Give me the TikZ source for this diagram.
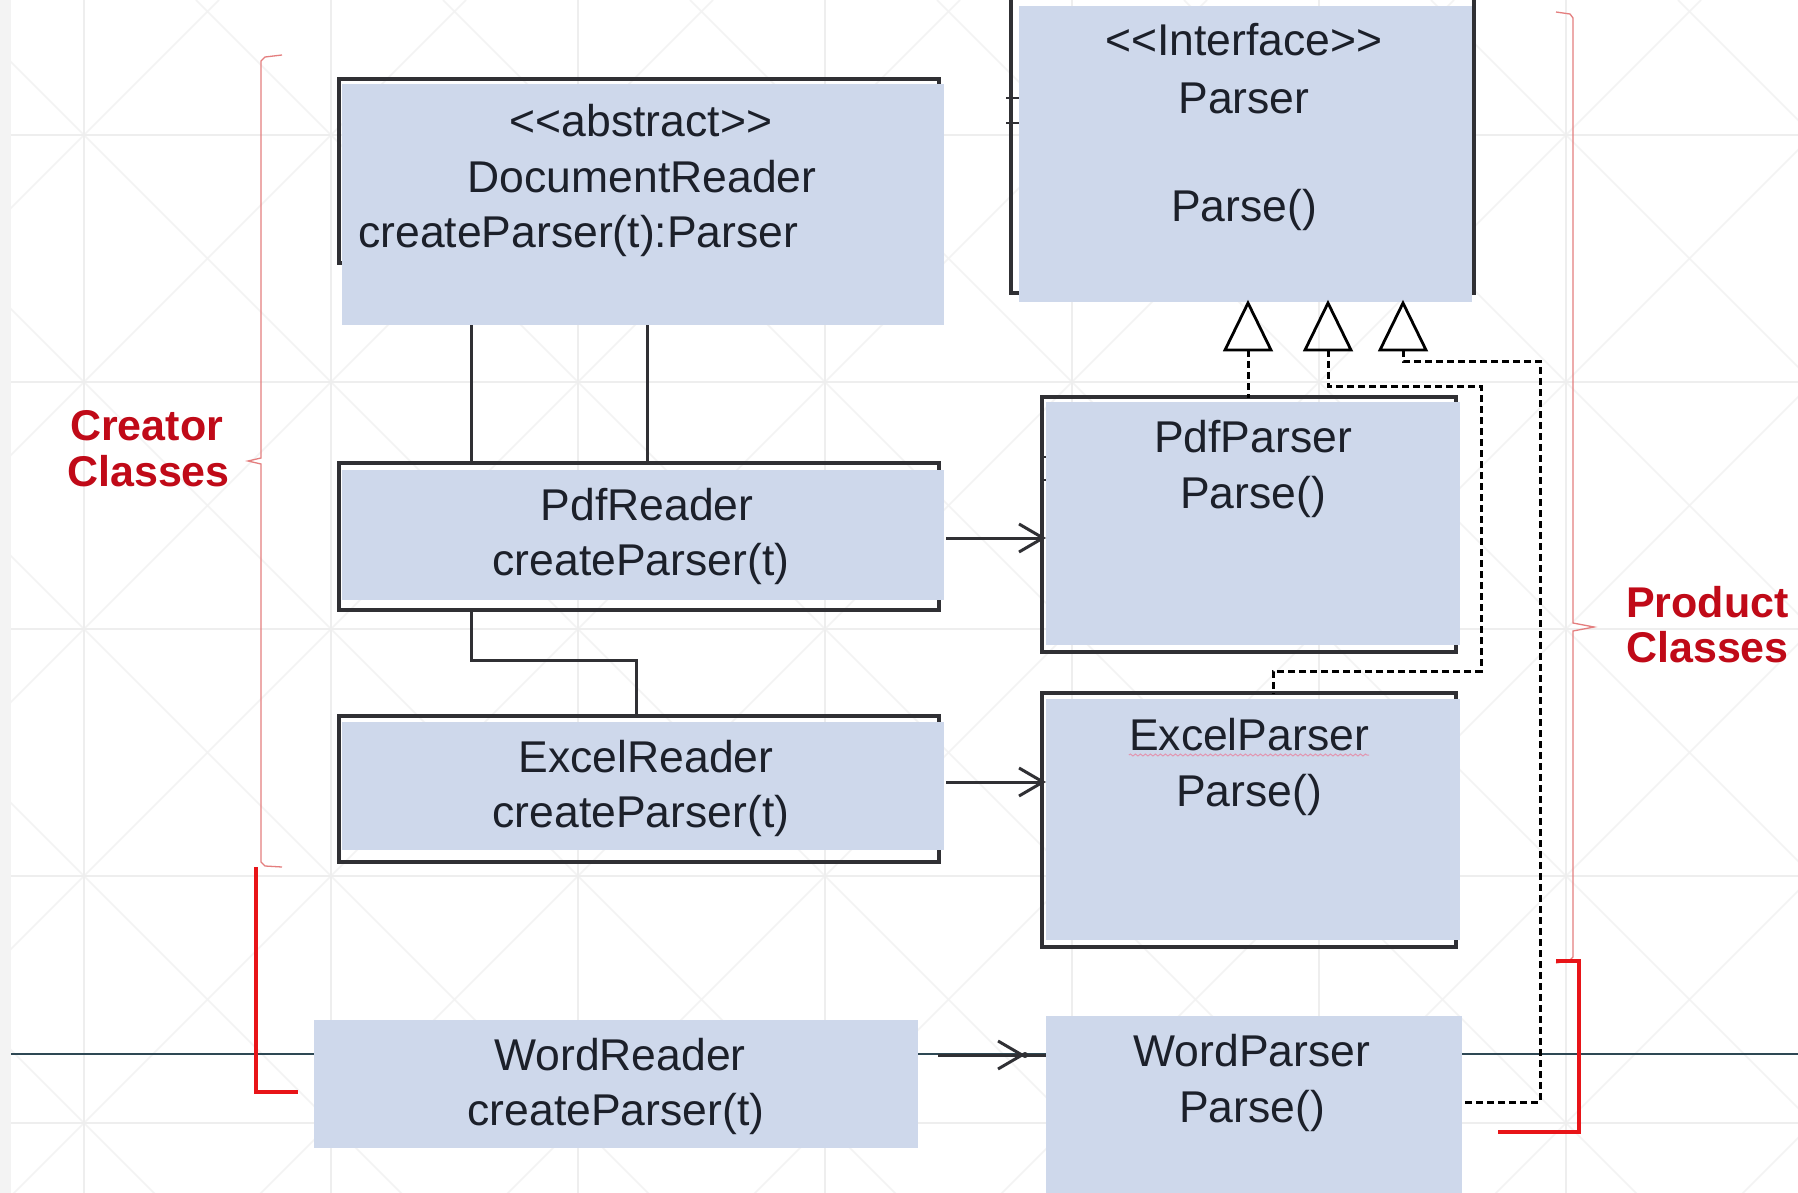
\documentclass[tikz,border=0pt]{standalone}
\usepackage{fontspec}
\setmainfont{Liberation Sans}
\usetikzlibrary{arrows.meta,calc,decorations.pathmorphing}

\definecolor{boxfill}{RGB}{206,216,235}
\definecolor{ink}{RGB}{28,32,42}
\definecolor{frameline}{RGB}{48,48,52}
\definecolor{gridline}{RGB}{238,238,238}
\definecolor{diagline}{RGB}{243,243,243}
\definecolor{edgegray}{RGB}{243,243,243}
\definecolor{braceline}{RGB}{228,126,126}
\definecolor{bracketred}{RGB}{232,20,24}
\definecolor{labelred}{RGB}{192,10,24}
\definecolor{axisline}{RGB}{46,72,84}
\definecolor{spellmark}{RGB}{226,150,176}

\begin{document}
\begin{tikzpicture}[x=1pt,y=-1pt,
  cls/.style={rectangle,draw=none,fill=boxfill,inner sep=0pt,outer sep=0pt,anchor=north west},
  frame/.style={draw=frameline,line width=3.4pt},
  txt/.style={text=ink,font=\fontsize{44.5}{52}\selectfont,inner sep=0pt,anchor=base},
  lbl/.style={text=labelred,font=\bfseries\fontsize{43}{46}\selectfont,inner sep=0pt,anchor=base west},
  link/.style={draw=frameline,line width=3pt},
  uses/.style={link,-{Straight Barb[length=24pt,width=28pt]}},
  realize/.style={draw=black,line width=3pt,dash pattern=on 7pt off 4pt},
  hollow/.style={draw=black,line width=2.8pt,line join=miter},
  thinbrace/.style={draw=braceline,line width=1.3pt},
  thickbrace/.style={draw=bracketred,line width=3.5pt},
]
\useasboundingbox (0,0) rectangle (1798,1193);
\fill[white] (0,0) rectangle (1798,1193);
\fill[edgegray] (0,0) rectangle (11,1193);

% background grid with diagonal crosses
\begin{scope}
  \clip (11,0) rectangle (1798,1193);
  \foreach \k in {-6,...,8}
    \draw[diagline,line width=1.5pt] ({-51+247*\k},0) -- ++(1400,1400);
  \foreach \k in {-1,...,13}
    \draw[diagline,line width=1.5pt] ({219+247*\k},0) -- ++(-1400,1400);
  \foreach \k in {0,...,6}
    \draw[gridline,line width=1.5pt] ({84+247*\k},0) -- ++(0,1193);
  \foreach \k in {0,...,4}
    \draw[gridline,line width=1.5pt] (11,{135+247*\k}) -- (1798,{135+247*\k});
\end{scope}

% horizontal axis line
\coordinate (axl) at (11,1054);
\coordinate (axr) at (1798,1054);
\draw[axisline,line width=2pt] (axl) -- (axr);

% group brackets
\draw[thinbrace] (282,55) -- (265,57) -- (261,61) -- (261,458) -- (248,461) -- (261,464) -- (261,862) -- (265,866) -- (282,867);
\draw[thickbrace] (256,867) -- (256,1092) -- (298,1092);
\draw[thinbrace] (1556,12) -- (1570,14) -- (1573,18) -- (1573,623) -- (1594,627) -- (1573,631) -- (1573,957) -- (1569,961) -- (1556,963);
\draw[thickbrace] (1556,961) -- (1579,961) -- (1579,1132) -- (1498,1132);

\node[lbl] (creatorA) at (70,440) {Creator};
\node[lbl] (creatorB) at (67,486) {Classes};
\node[lbl] (productA) at (1626,617) {Product};
\node[lbl] (productB) at (1626,662) {Classes};

% class frames (partly hidden under the fills)
\draw[frame] (339,79) rectangle (939,263);
\draw[frame] (339,463) rectangle (939,610);
\draw[frame] (339,716) rectangle (939,862);
\draw[frame] (1011,-10) rectangle (1474,293);
\draw[frame] (1042,397) rectangle (1456,652);
\draw[frame] (1042,693) rectangle (1456,947);
\draw[frameline,line width=2pt] (1006,98) -- (1019,98);
\draw[frameline,line width=2pt] (1006,123) -- (1019,123);
\draw[frameline,line width=2pt] (1040,457) -- (1046,457);
\draw[frameline,line width=2pt] (1040,480) -- (1046,480);

% class boxes
\node[cls,minimum width=602pt,minimum height=241pt] (dr) at (342,84) {};
\node[cls,minimum width=453pt,minimum height=296pt] (ip) at (1019,6) {};
\node[cls,minimum width=602pt,minimum height=130pt] (pr) at (342,470) {};
\node[cls,minimum width=602pt,minimum height=128pt] (er) at (342,722) {};
\node[cls,minimum width=604pt,minimum height=128pt] (wr) at (314,1020) {};
\node[cls,minimum width=414pt,minimum height=243pt] (pp) at (1046,402) {};
\node[cls,minimum width=414pt,minimum height=241pt] (ep) at (1046,699) {};
\node[cls,minimum width=416pt,minimum height=177pt] (wp) at (1046,1016) {};

% class texts
\node[txt] (drA) at (641,137) {<\kern0pt<abstract>\kern0pt>};
\node[txt] (drB) at (642,193) {DocumentReader};
\node[txt,anchor=base west] (drC) at (358,247) {createParser(t):Parser};
\node[txt] (ipA) at (1244,56) {<\kern0pt<Interface>\kern0pt>};
\node[txt] (ipB) at (1244,114) {Parser};
\node[txt] (ipC) at (1244,222) {Parse()};
\node[txt] (prA) at (647,520) {PdfReader};
\node[txt] (prB) at (641,575) {createParser(t)};
\node[txt] (erA) at (646,772) {ExcelReader};
\node[txt] (erB) at (641,827) {createParser(t)};
\node[txt] (wrA) at (620,1070) {WordReader};
\node[txt] (wrB) at (616,1125) {createParser(t)};
\node[txt] (ppA) at (1253,452) {PdfParser};
\node[txt] (ppB) at (1253,508) {Parse()};
\node[txt] (epA) at (1249,750) {ExcelParser};
\node[txt] (epB) at (1249,806) {Parse()};
\node[txt] (wpA) at (1252,1066) {WordParser};
\node[txt] (wpB) at (1252,1122) {Parse()};
\draw[spellmark,line width=1pt,decorate,decoration={snake,amplitude=1pt,segment length=5pt}]
  ($(epA.base west)+(0,5)$) -- ($(epA.base east)+(0,5)$);

% inheritance between creators
\draw[link] ($(dr.south west)+(129,0)$) -- ($(pr.north west)+(129,-7)$);
\draw[link] ($(dr.south west)+(305,0)$) -- ($(pr.north west)+(305,-7)$);
\draw[link] ($(pr.south west)+(129,10)$) |- ($(er.north west)+(294,-62)$) -- ($(er.north west)+(294,-6)$);

% creators use their products
\coordinate (prout) at ($(pr.east)+(2,3)$);
\coordinate (erout) at ($(er.east)+(2,-4)$);
\coordinate (wrout) at ($(wr.north east)+(20,35)$);
\draw[uses] (prout) -- (prout -| pp.west);
\draw[uses] (erout) -- (erout -| pp.west);
\draw[uses,shorten >=21pt] (wrout) -- (wrout -| wp.west);
\draw[link] (wrout -| wp.west) -- ++(-24,0);
\fill[frameline] ($(wrout -| wp.west)+(-21,0)$) circle (3pt);

% realization triangles and dashed links
\coordinate (t1) at (1248,350);
\coordinate (t2) at (1328,350);
\coordinate (t3) at (1403,350);
\foreach \t in {t1,t2,t3}
  \draw[hollow] ($(\t)+(-23,0)$) -- ($(\t)+(0,-47)$) -- ($(\t)+(23,0)$) -- cycle;
\coordinate (d2a) at (1481,386);
\coordinate (d2b) at (1481,671);
\coordinate (d3a) at (1540,361);
\coordinate (d3b) at (1540,1102);
\draw[realize] (t1) -- ($(t1 |- pp.north)+(0,-4)$);
\draw[realize] (t2) |- (d2a) -- (d2b) -| ($(ep.north west)+(227,-5)$);
\draw[realize] (t3) |- (d3a) -- (d3b) -- (d3b -| wp.east);
\end{tikzpicture}
\end{document}
